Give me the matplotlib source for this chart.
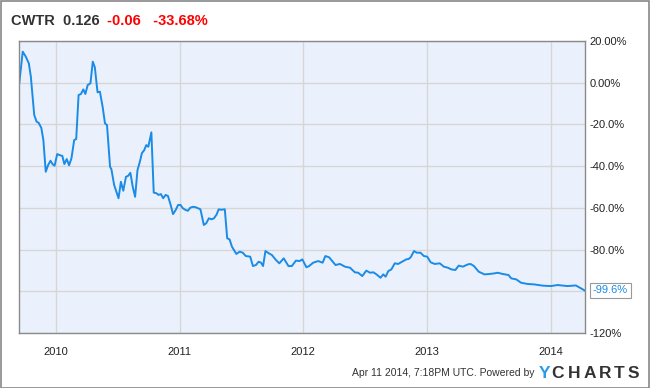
"""
CWTR price change chart (YCharts style).
"""
import pandas as pd
import matplotlib
matplotlib.use("Agg")
import matplotlib.pyplot as plt
import matplotlib.dates as mdates
from matplotlib.ticker import FixedLocator, FixedFormatter

# values
dates = [
    "2009-09-14", "2009-09-24", "2009-10-03", "2009-10-12", "2009-10-18",
    "2009-10-28", "2009-11-04", "2009-11-10", "2009-11-18", "2009-11-24",
    "2009-12-01", "2009-12-08", "2009-12-15", "2009-12-21", "2009-12-27",
    "2010-01-04", "2010-01-11", "2010-01-19", "2010-01-25", "2010-02-01",
    "2010-02-08", "2010-02-15", "2010-02-23", "2010-03-01", "2010-03-08",
    "2010-03-15", "2010-03-22", "2010-03-28", "2010-04-04", "2010-04-12",
    "2010-04-19", "2010-04-25", "2010-05-03", "2010-05-10", "2010-05-18",
    "2010-05-25", "2010-05-31", "2010-06-09", "2010-06-13", "2010-06-21",
    "2010-07-04", "2010-07-11", "2010-07-18", "2010-07-26", "2010-08-01",
    "2010-08-08", "2010-08-15", "2010-08-22", "2010-08-29", "2010-09-05",
    "2010-09-11", "2010-09-18", "2010-09-24", "2010-09-30", "2010-10-09",
    "2010-10-16", "2010-10-24", "2010-10-30", "2010-11-06", "2010-11-13",
    "2010-11-20", "2010-11-27", "2010-12-05", "2010-12-12", "2010-12-20",
    "2010-12-27", "2011-01-03", "2011-01-10", "2011-01-18", "2011-01-25",
    "2011-02-01", "2011-02-09", "2011-02-17", "2011-02-24", "2011-03-03",
    "2011-03-13", "2011-03-20", "2011-03-28", "2011-04-05", "2011-04-12",
    "2011-04-19", "2011-04-26", "2011-05-03", "2011-05-14", "2011-05-21",
    "2011-05-28", "2011-06-04", "2011-06-17", "2011-06-27", "2011-07-06",
    "2011-07-15", "2011-07-28", "2011-08-05", "2011-08-14", "2011-08-22",
    "2011-08-29", "2011-09-04", "2011-09-11", "2011-09-21", "2011-09-30",
    "2011-10-12", "2011-10-22", "2011-11-04", "2011-11-18", "2011-11-28",
    "2011-12-10", "2011-12-21", "2011-12-29", "2012-01-10", "2012-01-18",
    "2012-01-30", "2012-02-14", "2012-02-27", "2012-03-06", "2012-03-17",
    "2012-04-05", "2012-04-18", "2012-05-03", "2012-05-18", "2012-06-01",
    "2012-06-11", "2012-06-23", "2012-07-05", "2012-07-16", "2012-07-26",
    "2012-08-04", "2012-08-16", "2012-08-24", "2012-08-31", "2012-09-08",
    "2012-09-17", "2012-09-27", "2012-10-07", "2012-10-19", "2012-10-31",
    "2012-11-07", "2012-11-13", "2012-11-23", "2012-12-01", "2012-12-12",
    "2012-12-22", "2013-01-01", "2013-01-11", "2013-01-23", "2013-02-07",
    "2013-02-19", "2013-03-03", "2013-03-13", "2013-03-25", "2013-04-04",
    "2013-04-16", "2013-05-01", "2013-05-09", "2013-05-19", "2013-06-02",
    "2013-06-19", "2013-07-04", "2013-07-19", "2013-07-28", "2013-08-12",
    "2013-08-29", "2013-09-06", "2013-09-21", "2013-10-05", "2013-10-25",
    "2013-11-13", "2013-12-08", "2014-01-01", "2014-01-21", "2014-02-19",
    "2014-03-16", "2014-04-11",
]
pct_change = [
    0.0, 14.9, 12.5, 9.3, 2.9,
    -15.5, -18.7, -19.2, -21.7, -27.5,
    -42.7, -39.5, -37.4, -39.0, -39.8,
    -34.2, -34.7, -35.1, -39.0, -36.6,
    -39.6, -36.2, -27.5, -27.0, -5.9,
    -5.4, -3.2, -5.4, -1.1, -0.3,
    10.1, 7.4, -4.6, -4.3, -11.5,
    -19.5, -20.3, -40.3, -41.5, -49.0,
    -55.4, -47.5, -51.8, -45.1, -44.7,
    -43.2, -49.9, -54.7, -41.9, -37.9,
    -33.8, -32.3, -29.9, -30.7, -23.8,
    -52.7, -53.0, -53.8, -53.4, -55.4,
    -53.8, -54.3, -58.6, -63.0, -61.0,
    -58.6, -58.6, -60.2, -61.0, -61.4,
    -59.9, -59.5, -59.7, -60.2, -60.7,
    -68.2, -67.4, -65.0, -65.5, -65.0,
    -63.4, -60.7, -60.9, -60.7, -74.6,
    -75.1, -78.6, -82.1, -81.0, -81.5,
    -83.1, -83.4, -87.9, -87.4, -85.8,
    -86.3, -87.9, -80.7, -81.8, -82.6,
    -85.0, -86.6, -84.2, -87.9, -87.9,
    -85.3, -85.5, -84.7, -88.5, -87.9,
    -86.3, -85.5, -86.3, -83.1, -83.7,
    -87.4, -86.9, -88.2, -88.7, -90.9,
    -91.1, -92.7, -90.1, -91.1, -90.9,
    -91.9, -93.5, -91.9, -93.0, -90.3,
    -89.5, -86.6, -86.9, -85.8, -84.7,
    -84.5, -83.7, -80.7, -81.5, -81.5,
    -83.1, -83.4, -86.1, -86.9, -86.6,
    -88.2, -88.7, -89.5, -89.8, -87.7,
    -88.2, -87.1, -86.9, -87.9, -90.6,
    -91.9, -91.7, -91.4, -91.1, -91.7,
    -92.2, -93.8, -94.3, -95.9, -96.5,
    -96.7, -97.3, -97.5, -97.0, -97.5,
    -97.2, -99.6,
]
y_ticks = [20, 0, -20, -40, -60, -80, -100, -120]
y_tick_labels = ["20.00%", "0.00%", "-20.0%", "-40.0%", "-60.0%", "-80.0%", "", "-120%"]

LINE_BLUE = "#1a8be6"
FONT = "Liberation Sans"


def draw_logo(fig):
    """YCHARTS logo, one letter at a time for the wide spacing."""
    letters = "YCHARTS"
    centers = [545, 558, 574, 589.5, 605, 619, 633]
    for letter, cx in zip(letters, centers):
        color = "#2a9be8" if letter == "Y" else "#333333"
        fig.text(cx / 650, 1 - 374 / 388, letter, fontsize=12.5, fontweight="bold",
                 color=color, va="center", ha="center")


def main():
    plt.rcParams['font.family'] = [FONT, 'DejaVu Sans']
    x = pd.to_datetime(dates)

    fig = plt.figure(figsize=(6.5, 3.88), dpi=100)
    fig.patch.set_facecolor("white")
    # thin gray frame around the whole image
    fig.add_artist(plt.Rectangle((0.001, 0.001), 0.997, 0.996, transform=fig.transFigure,
                                 fill=False, edgecolor="#888888", linewidth=1.2))

    ax = fig.add_axes([19 / 650, 1 - 333 / 388, 566 / 650, 292 / 388])
    ax.set_facecolor("#eaf1fc")
    ax.plot(x, pct_change, color=LINE_BLUE, linewidth=1.4, solid_joinstyle="round")

    ax.set_xlim(pd.Timestamp("2009-09-13"), pd.Timestamp("2014-04-12"))
    ax.set_ylim(-120, 20)

    ax.xaxis.set_major_locator(mdates.YearLocator())
    ax.xaxis.set_major_formatter(mdates.DateFormatter("%Y"))
    ax.yaxis.tick_right()
    ax.yaxis.set_major_locator(FixedLocator(y_ticks))
    ax.yaxis.set_major_formatter(FixedFormatter(y_tick_labels))
    ax.tick_params(axis="both", length=0, labelsize=8, colors="#222222")
    ax.tick_params(axis="x", pad=10)
    ax.tick_params(axis="y", pad=3)
    ax.grid(True, color="#d6d6d6", linewidth=1)
    ax.set_axisbelow(True)
    for side in ax.spines:
        ax.spines[side].set_color("#8a8a8a")
        ax.spines[side].set_linewidth(1)

    # last value label
    ax.annotate("-99.6%", xy=(x[-1], pct_change[-1]), xycoords="data",
                xytext=(6, 0), textcoords="offset points", va="center", ha="left",
                fontsize=8, color=LINE_BLUE, annotation_clip=False,
                bbox=dict(boxstyle="square,pad=0.25", facecolor="white",
                          edgecolor="#999999", linewidth=0.8))

    # header
    fig.text(11 / 650, 1 - 21 / 388, "CWTR  0.126", fontsize=10.5, fontweight="bold",
             color="#333333", va="center", ha="left")
    fig.text(107 / 650, 1 - 21 / 388, "-0.06   -33.68%", fontsize=10.5, fontweight="bold",
             color="#ff0000", va="center", ha="left")

    # footer
    fig.text(535 / 650, 1 - 373 / 388, "Apr 11 2014, 7:18PM UTC. Powered by", fontsize=7.5,
             color="#333333", va="center", ha="right")
    draw_logo(fig)

    fig.savefig("out.png", dpi=100, facecolor="white")


if __name__ == "__main__":
    main()
